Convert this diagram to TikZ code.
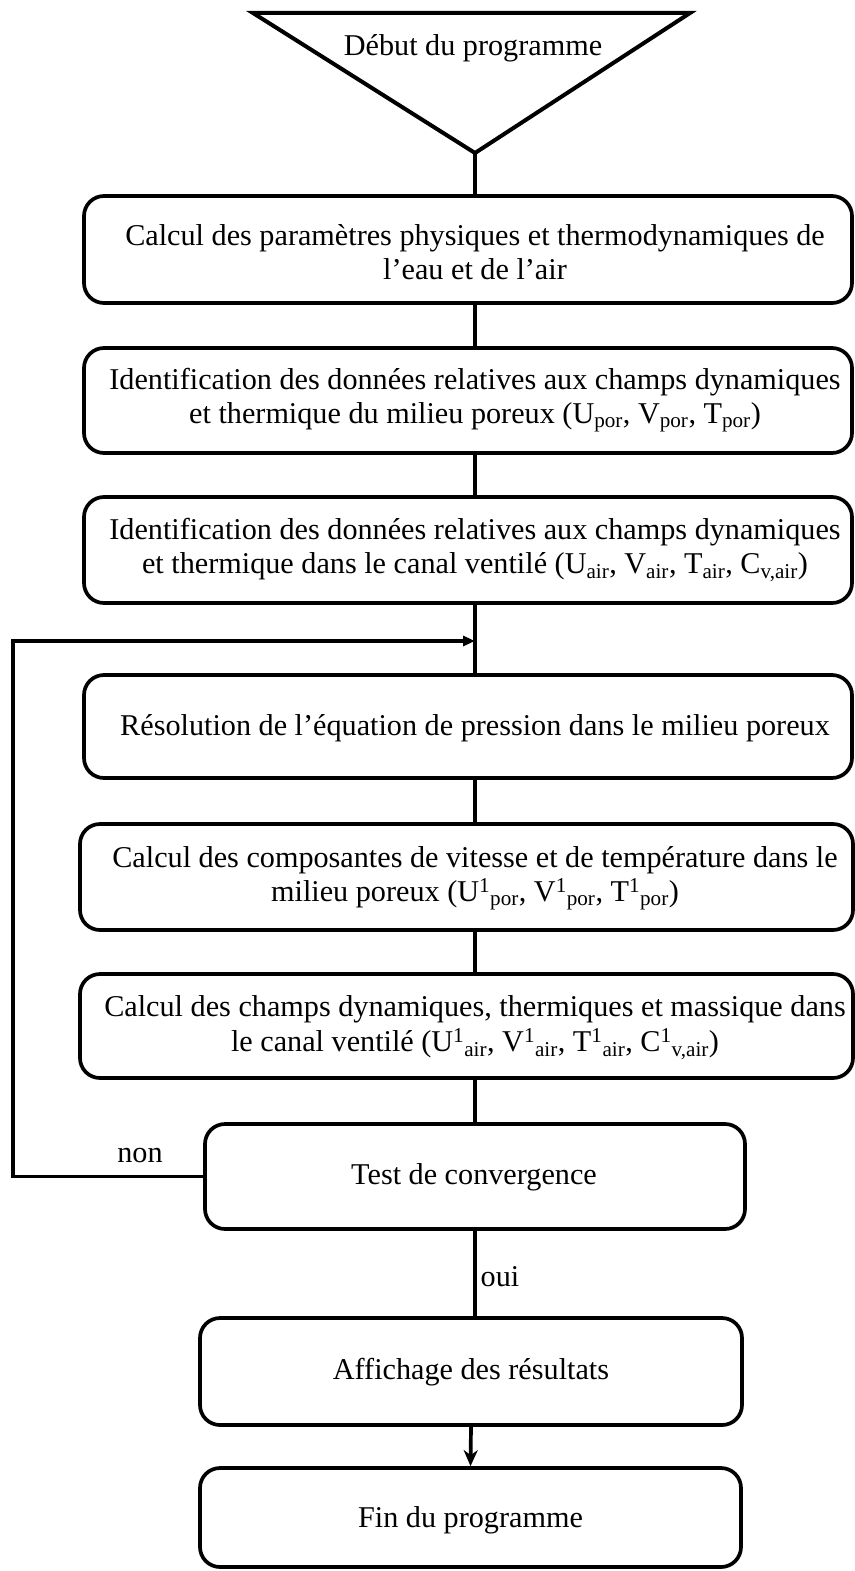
\documentclass[tikz,border=0pt]{standalone}
\usepackage{fontspec}
\setmainfont{Liberation Serif}
\usetikzlibrary{arrows.meta}
\begin{document}
\begin{tikzpicture}[x=1pt,y=-1pt,
  every node/.style={font=\fontsize{30.2}{34.5}\selectfont, inner sep=0pt},
  stepbox/.style={draw, rounded corners=20pt, line width=3.7pt},
  steptext/.style={align=center},
  lbl/.style={font=\fontsize{30.2}{34.5}\selectfont},
  flow/.style={line width=3.7pt},
  arr/.style={line width=3.7pt, -{Stealth[length=16pt,width=14pt,inset=5pt]}},
  looparr/.style={line width=3.7pt, -{Triangle[length=12pt,width=10pt]}}]
\useasboundingbox (0,0) rectangle (854,1571);
% start triangle
\coordinate (tl) at (253,13);
\coordinate (tr) at (690,13);
\coordinate (tapex) at (475,153);
\draw[line width=4pt, line join=miter] (tl) -- (tr) -- (tapex) -- cycle;
\node (start) at (473,48) {Début du programme};
% boxes
\node[stepbox, minimum width=768pt, minimum height=107pt] (b1) at (468,249.5) {};
\node[steptext] (b1t) at (475,252)
  {Calcul des paramètres physiques et thermodynamiques de\\l’eau et de l’air};
\node[stepbox, minimum width=768pt, minimum height=105pt] (b2) at (468,400.5) {};
\node[steptext] (b2t) at (475,400)
  {Identification des données relatives aux champs dynamiques\\et thermique du milieu poreux (U\textsubscript{por}, V\textsubscript{por}, T\textsubscript{por})};
\node[stepbox, minimum width=768pt, minimum height=106pt] (b3) at (468,550) {};
\node[steptext] (b3t) at (475,550)
  {Identification des données relatives aux champs dynamiques\\et thermique dans le canal ventilé (U\textsubscript{air}, V\textsubscript{air}, T\textsubscript{air}, C\textsubscript{v,air})};
\node[stepbox, minimum width=768pt, minimum height=103pt] (b4) at (468,726.5) {};
\node[steptext] (b4t) at (475,728)
  {Résolution de l’équation de pression dans le milieu poreux};
\node[stepbox, minimum width=773pt, minimum height=106pt] (b5) at (466.5,877) {};
\node[steptext] (b5t) at (475,878)
  {Calcul des composantes de vitesse et de température dans le\\milieu poreux (U\textsuperscript{1}\textsubscript{por}, V\textsuperscript{1}\textsubscript{por}, T\textsuperscript{1}\textsubscript{por})};
\node[stepbox, minimum width=773pt, minimum height=104pt] (b6) at (466.5,1026) {};
\node[steptext] (b6t) at (475,1028)
  {Calcul des champs dynamiques, thermiques et massique dans\\le canal ventilé (U\textsuperscript{1}\textsubscript{air}, V\textsuperscript{1}\textsubscript{air}, T\textsuperscript{1}\textsubscript{air}, C\textsuperscript{1}\textsubscript{v,air})};
\node[stepbox, minimum width=540pt, minimum height=105pt] (test) at (475,1176.5) {};
\node[steptext] (testt) at (474,1177) {Test de convergence};
\node[stepbox, minimum width=542pt, minimum height=107pt] (aff) at (471,1371.5) {};
\node[steptext] (afft) at (471,1372) {Affichage des résultats};
\node[stepbox, minimum width=541pt, minimum height=99pt] (fin) at (470.5,1517.5) {};
\node[steptext] (fint) at (470.5,1520) {Fin du programme};
% connectors
\coordinate (loopL) at (13,641);
\coordinate (loopJ) at (475,641);
\draw[flow] (tapex) -- (tapex |- b1.north);
\draw[flow] (tapex |- b1.south) -- (tapex |- b2.north);
\draw[flow] (tapex |- b2.south) -- (tapex |- b3.north);
\draw[flow] (tapex |- b3.south) -- (tapex |- b4.north);
\draw[flow] (tapex |- b4.south) -- (tapex |- b5.north);
\draw[flow] (tapex |- b5.south) -- (tapex |- b6.north);
\draw[flow] (tapex |- b6.south) -- (test.north);
\draw[flow] (test.south) -- (aff.north -| test.south);
\draw[arr] (aff.south) -- (fin.north);
\draw[looparr, line join=miter] (test.west) -| (loopL) -- (loopJ);
% labels
\node[lbl] (non) at (140,1156) {non};
\node[lbl] (oui) at (500,1277) {oui};
\end{tikzpicture}
\end{document}
